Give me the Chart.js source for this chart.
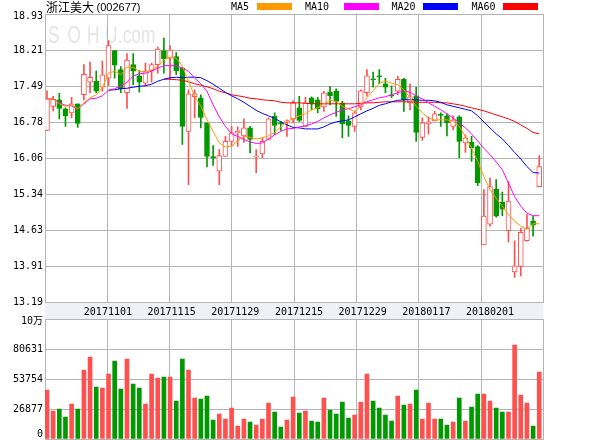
<!DOCTYPE html>
<html><head><meta charset="utf-8">
<script src="https://cdn.jsdelivr.net/npm/chart.js@4.4.1/dist/chart.umd.min.js"></script>
<style>
html,body{margin:0;padding:0;background:#fff;}
#wrap{position:relative;width:600px;height:440px;overflow:hidden;}
#c1{position:absolute;left:0;top:0;}
#c2{position:absolute;left:0;top:300px;}
</style></head><body>
<div id="wrap">
<canvas id="c1" width="600" height="320"></canvas>
<canvas id="c2" width="600" height="140"></canvas>
</div>
<script>
const stockName = '浙江美大';
const stockCode = '(002677)';
const dateTicks = ['20171101','20171115','20171129','20171215','20171229','20180117','20180201'];
const priceTicks = ['13.19','13.91','14.63','15.34','16.06','16.78','17.49','18.21','18.93'];
const volumeTicks = ['0','26877','53754','80631','10万'];
const seriesNames = ['MA5','MA10','MA20','MA60'];

const openP = [16.61,17.09,17.22,17.04,16.96,17.14,17.32,17.57,17.59,17.47,17.65,18.20,17.82,17.36,17.92,17.70,17.55,17.80,17.92,18.20,
18.05,18.08,17.85,16.59,17.28,17.26,16.76,16.09,15.80,16.09,16.39,16.56,16.50,16.66,16.08,16.14,16.43,16.89,16.75,16.78,
16.84,17.06,16.69,17.26,17.22,17.08,17.37,17.40,17.16,16.80,16.69,17.08,17.36,17.64,17.70,17.54,17.31,17.39,17.63,17.16,
17.30,16.47,16.74,16.80,16.92,16.90,16.69,16.88,16.36,16.37,16.29,14.33,14.74,15.44,15.18,14.61,13.79,13.90,14.41,14.80,15.49];
const highP = [17.40,17.29,17.35,17.06,17.27,17.14,17.92,17.97,17.79,17.99,18.40,18.20,17.88,18.14,18.14,17.80,17.95,17.95,18.27,18.45,
18.30,18.16,17.87,17.42,17.42,17.32,16.76,16.31,16.23,16.49,16.69,16.68,16.84,16.69,16.23,16.46,16.86,16.96,16.79,16.82,
17.20,17.29,17.27,17.28,17.27,17.39,17.49,17.44,17.19,16.90,16.99,17.42,17.82,17.77,17.82,17.65,17.50,17.69,17.65,17.54,
17.47,16.86,16.88,16.99,16.96,16.94,16.90,16.90,16.52,16.49,16.31,15.43,15.66,15.63,15.38,15.59,14.41,14.66,14.93,14.90,16.11];
const lowP = [16.61,17.00,16.84,16.69,16.86,16.67,17.22,17.36,17.36,17.39,17.50,17.65,17.36,17.05,17.52,17.37,17.49,17.57,17.75,17.75,
17.62,17.72,16.33,15.53,16.86,16.66,15.88,15.91,15.53,16.09,16.29,16.29,16.37,16.16,15.77,16.06,16.42,16.53,16.61,16.49,
16.76,16.79,16.69,17.02,16.96,16.99,17.12,16.89,16.46,16.49,16.59,17.02,17.29,17.47,17.54,17.36,17.26,17.32,16.99,17.02,
16.39,16.41,16.54,16.80,16.69,16.50,16.62,16.06,16.17,15.99,15.51,14.33,14.70,14.88,14.91,14.38,13.68,13.71,14.40,14.50,15.49];
const closeP = [17.24,17.23,17.05,16.90,17.14,16.75,17.73,17.67,17.39,17.72,18.30,17.91,17.44,18.01,17.79,17.57,17.79,17.92,18.23,18.04,
18.21,17.80,16.69,17.34,17.34,16.87,16.09,16.06,16.11,16.39,16.56,16.59,16.66,16.43,16.10,16.39,16.84,16.71,16.74,16.79,
17.16,16.81,17.16,17.14,17.04,17.36,17.30,17.19,16.74,16.71,16.96,17.40,17.70,17.62,17.68,17.47,17.30,17.63,17.22,17.28,
16.57,16.76,16.78,16.94,16.91,16.76,16.82,16.39,16.46,16.26,15.57,14.90,15.49,14.90,15.04,15.20,13.91,14.58,14.66,14.72,15.89];
const volume = [43894,25082,26874,19708,31353,26874,61810,73456,46582,45686,58227,69872,44790,71664,49269,45686,31353,58227,54644,55540,
55540,34040,71664,61810,36728,35832,38519,17020,22395,17916,27770,11645,17916,15229,12541,17916,32249,24187,10750,17020,
37624,23291,25000,16124,15229,36728,25978,22395,33145,18812,21499,33145,58227,34040,27770,21499,16124,38519,30457,31353,
43894,17916,32249,17916,17916,12541,15229,36728,16124,28666,40311,40311,34040,27770,24187,24187,84205,39415,32249,11645,60019];

const ma5 = [17.24,17.24,17.14,17.09,17.12,17.04,17.16,17.26,17.32,17.46,17.75,17.79,17.72,17.87,17.87,17.79,17.77,17.82,17.89,18.02,
18.07,18.05,17.89,17.59,17.29,17.09,16.82,16.59,16.36,16.28,16.30,16.40,16.50,16.47,16.44,16.46,16.50,16.57,16.68,16.79,
16.84,16.90,16.94,17.02,17.06,17.14,17.21,17.19,17.09,17.04,16.99,17.09,17.26,17.40,17.55,17.59,17.55,17.52,17.42,17.26,
17.09,16.96,16.86,16.82,16.82,16.82,16.79,16.69,16.49,16.26,15.99,15.69,15.43,15.26,15.10,14.93,14.80,14.70,14.64,14.75,14.75];
const ma10 = [17.24,17.24,17.16,17.11,17.10,17.04,17.14,17.24,17.25,17.30,17.41,17.44,17.50,17.57,17.69,17.74,17.75,17.79,17.85,17.90,
17.90,17.90,17.85,17.79,17.65,17.54,17.39,17.12,16.88,16.69,16.54,16.49,16.43,16.38,16.35,16.36,16.44,16.52,16.59,16.64,
16.65,16.68,16.70,16.74,16.79,16.86,16.92,16.97,17.02,17.04,17.08,17.12,17.18,17.22,17.26,17.28,17.32,17.36,17.40,17.37,
17.30,17.24,17.16,17.09,17.02,16.94,16.86,16.76,16.66,16.54,16.40,16.25,16.13,15.98,15.83,15.56,15.29,15.10,14.96,14.91,14.91];
const ma20 = [null,null,null,null,null,null,null,null,null,null,17.41,17.42,17.44,17.45,17.47,17.49,17.50,17.53,17.59,17.63,
17.66,17.67,17.66,17.67,17.67,17.66,17.60,17.53,17.45,17.37,17.30,17.24,17.17,17.09,17.01,16.95,16.90,16.85,16.78,16.72,
16.67,16.66,16.64,16.64,16.64,16.68,16.74,16.78,16.80,16.82,16.88,16.94,17.00,17.05,17.11,17.14,17.18,17.21,17.22,17.22,
17.22,17.21,17.21,17.20,17.17,17.12,17.09,17.06,17.03,17.00,16.90,16.78,16.66,16.54,16.44,16.31,16.17,16.04,15.89,15.77,15.76];
const ma60 = [null,null,null,null,null,null,null,null,null,null,null,null,null,null,null,null,null,null,null,17.63,
17.63,17.62,17.61,17.58,17.54,17.51,17.48,17.44,17.39,17.36,17.32,17.30,17.28,17.25,17.24,17.22,17.21,17.20,17.17,17.16,
17.16,17.16,17.15,17.14,17.14,17.14,17.14,17.14,17.14,17.14,17.14,17.15,17.16,17.16,17.17,17.18,17.18,17.18,17.18,17.18,
17.17,17.17,17.17,17.17,17.16,17.16,17.14,17.12,17.09,17.06,17.03,17.00,16.96,16.92,16.88,16.84,16.79,16.72,16.65,16.57,16.54];

const UP = '#ff5050', DOWN = '#009900', GRID = '#b4b4b4';
const MONO = "'DejaVu Sans Mono','Noto Sans CJK SC',monospace";
const idx = closeP.map((_, i) => i);
const isUp = i => closeP[i] >= openP[i];
const XMIN = -0.325, XMAX = 80.675;
const gridTicks = s => { s.ticks = []; for (let k = 0; k <= 8; k++) s.ticks.push({value: XMIN + k * (XMAX - XMIN) / 8}); };
const noPad = s => { s.paddingTop = 0; s.paddingBottom = 0; s.paddingLeft = 0; s.paddingRight = 0; };

const headerPlugin = {
  id: 'header',
  beforeDraw(chart) {
    const c = chart.ctx; c.save();
    c.fillStyle = '#e4e4e4';
    c.textBaseline = 'alphabetic';
    c.font = "24px 'Liberation Sans'";
    c.translate(48, 43);
    c.scale(0.72, 1);
    const xs = [0, 27, 54, 79];
    'SOHU'.split('').forEach((ch, k) => c.fillText(ch, xs[k], 0));
    c.fillText('.com', 97, 0);
    c.restore();
  },
  afterDraw(chart) {
    const c = chart.ctx; c.save();
    c.fillStyle = '#000'; c.textBaseline = 'middle';
    c.font = "12px 'Noto Sans CJK SC'";
    c.fillText(stockName, 46, 7.5);
    c.font = "11px 'Liberation Sans'";
    c.fillText(stockCode, 96.5, 8);
    const cols = ['#ff9900', '#ff00ff', '#0000ff', '#ff0000'];
    const tx = [231, 305, 391.5, 471.5], bx = [257, 344, 423, 503];
    c.font = '10px ' + MONO;
    seriesNames.forEach((n, k) => {
      c.fillStyle = '#000'; c.fillText(n, tx[k], 7);
      c.fillStyle = cols[k]; c.fillRect(bx[k], 3, 35, 7);
    });
    c.restore();
  }
};

new Chart(document.getElementById('c1'), {
  data: {
    labels: idx,
    datasets: [
      {type: 'line', label: 'MA5', data: ma5, borderColor: '#ff9900', borderWidth: 1, pointRadius: 0, order: 1},
      {type: 'line', label: 'MA10', data: ma10, borderColor: '#ff00ff', borderWidth: 1, pointRadius: 0, order: 1},
      {type: 'line', label: 'MA20', data: ma20, borderColor: '#0000ff', borderWidth: 1, pointRadius: 0, order: 1},
      {type: 'line', label: 'MA60', data: ma60, borderColor: '#ff0000', borderWidth: 1, pointRadius: 0, order: 1},
      {type: 'bar', label: 'body', grouped: false, order: 2, barThickness: 5, minBarLength: 1, borderSkipped: false,
        data: idx.map(i => [Math.min(openP[i], closeP[i]), Math.max(openP[i], closeP[i])]),
        backgroundColor: ctx => isUp(ctx.dataIndex) ? '#ffffff' : DOWN,
        borderColor: ctx => isUp(ctx.dataIndex) ? UP : DOWN, borderWidth: 1},
      {type: 'bar', label: 'wick', grouped: false, order: 3, barThickness: 1, borderSkipped: false,
        data: idx.map(i => [lowP[i], highP[i]]),
        backgroundColor: ctx => isUp(ctx.dataIndex) ? UP : DOWN, borderWidth: 0}
    ]
  },
  options: {
    responsive: false, animation: false, events: [],
    layout: {padding: {top: 14, right: 56.6, left: 0, bottom: 0}},
    plugins: {legend: {display: false}, tooltip: {enabled: false}},
    scales: {
      x: {type: 'linear', min: XMIN, max: XMAX, offset: false, position: 'bottom', weight: 0,
        afterBuildTicks: gridTicks, afterFit: s => { s.height = 0; noPad(s); },
        grid: {color: GRID, drawTicks: false, offset: false}, border: {color: GRID},
        ticks: {display: false}},
      xd: {type: 'linear', min: XMIN, max: XMAX, offset: false, position: 'bottom', weight: 1,
        backgroundColor: '#f0f0f8',
        afterBuildTicks: s => { s.ticks = dateTicks.map((d, k) => ({value: 9.9 + k * 10.35})); },
        afterFit: s => { s.height = 18; noPad(s); },
        grid: {display: false, drawTicks: false}, border: {display: false},
        ticks: {padding: 4, maxRotation: 0, autoSkip: false, color: '#000', font: {family: MONO, size: 10},
          callback: (v, k) => dateTicks[k]}},
      y: {type: 'linear', min: 13.19, max: 18.93,
        afterBuildTicks: s => { s.ticks = priceTicks.map((t, k) => ({value: 13.19 + k * (18.93 - 13.19) / 8})); },
        afterFit: s => { s.width = 45; noPad(s); },
        grid: {color: GRID, drawTicks: false}, border: {color: GRID},
        ticks: {padding: 2, color: '#000', autoSkip: false,
          font: {family: MONO, size: 10, lineHeight: 0.4},
          callback: (v, k) => k === priceTicks.length - 1 ? ['', priceTicks[k]] : priceTicks[k]}}
    }
  },
  plugins: [headerPlugin]
});

new Chart(document.getElementById('c2'), {
  type: 'bar',
  data: {
    labels: idx,
    datasets: [{label: 'volume', data: volume, barThickness: 4, grouped: false,
      backgroundColor: ctx => isUp(ctx.dataIndex) ? UP : DOWN, borderWidth: 0}]
  },
  options: {
    responsive: false, animation: false, events: [],
    layout: {padding: {top: 19, right: 56.6, left: 0, bottom: 1}},
    plugins: {legend: {display: false}, tooltip: {enabled: false}},
    scales: {
      x: {type: 'linear', min: XMIN, max: XMAX, offset: false, position: 'bottom',
        afterBuildTicks: gridTicks, afterFit: s => { s.height = 0; noPad(s); },
        grid: {color: GRID, drawTicks: false, offset: false}, border: {color: GRID},
        ticks: {display: false}},
      y: {type: 'linear', min: 0, max: 107508,
        afterBuildTicks: s => { s.ticks = volumeTicks.map((t, k) => ({value: k * 26877})); },
        afterFit: s => { s.width = 45; noPad(s); },
        grid: {color: GRID, drawTicks: false}, border: {color: GRID},
        ticks: {padding: 2, color: '#000', autoSkip: false,
          font: ctx => ({family: MONO, size: 10, lineHeight: ctx.index === 0 ? 0.9 : 0.4}),
          callback: (v, k) => k === 0 ? [volumeTicks[k], ''] : (k === volumeTicks.length - 1 ? ['', volumeTicks[k]] : volumeTicks[k])}}
    }
  }
});
</script>
</body></html>
